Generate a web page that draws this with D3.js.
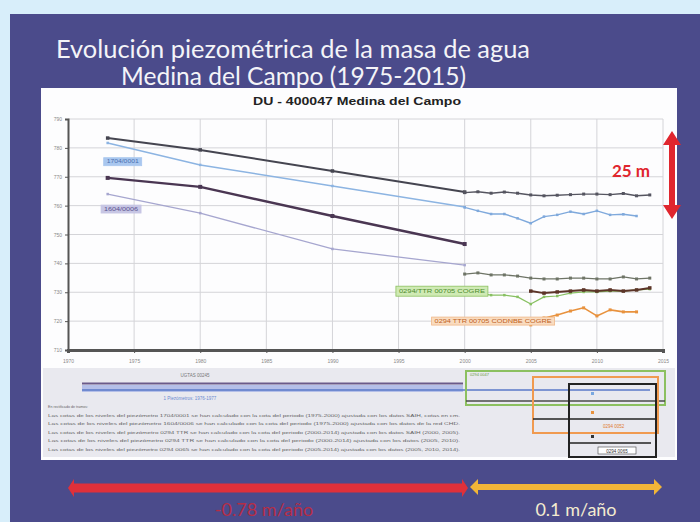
<!DOCTYPE html>
<html><head><meta charset="utf-8">
<script src="https://cdn.jsdelivr.net/npm/d3@7"></script>
<style>html,body{margin:0;padding:0;background:#d8eefa;}svg{display:block;}</style>
</head><body>
<script>
// ---- data ----
const xTicks = [1970,1975,1980,1985,1990,1995,2000,2005,2010,2015];
const yTicks = [710,720,730,740,750,760,770,780,790];
const yearsOld = [1973,1980,1990,2000];
const yearsNew = [2000,2001,2002,2003,2004,2005,2006,2007,2008,2009,2010,2011,2012,2013,2014];
const yearsBlueNew = [2000,2001,2002,2003,2004,2005,2006,2007,2008,2009,2010,2011,2012,2013];
const yearsLate = [2005,2006,2007,2008,2009,2010,2011,2012,2013,2014];
const yearsOrange = [2005,2006,2007,2008,2009,2010,2011,2012,2013];
const darkOld = [783.4,779.3,772.0,764.7];
const darkNew = [764.5,764.8,764.3,764.7,764.3,763.7,763.4,763.6,763.8,764.0,764.0,763.8,764.2,763.4,763.7];
const blueOld = [781.7,774.1,766.8,759.5];
const blueNew = [759.4,758.2,757.1,757.1,755.6,753.9,756.2,756.8,757.9,757.1,758.2,756.8,757.0,756.4];
const purpleOld = [769.6,766.5,756.4,746.7];
const lilacOld = [764.0,757.4,745.0,739.4];
const oliveNew = [736.3,736.7,736.0,736.0,735.6,734.9,734.6,734.6,734.9,734.9,734.6,734.6,735.3,734.6,734.9];
const greenNew = [731.1,729.7,729.0,729.0,728.4,725.9,728.4,728.7,729.7,730.1,730.1,730.4,730.4,730.8,731.1];
const brownLate = [730.4,729.7,730.1,730.4,730.8,730.4,730.8,730.4,730.8,731.5];
const orangeLate = [718.7,721.1,722.1,723.5,724.6,721.8,723.9,723.2,723.2];
const title1 = "Evolución piezométrica de la masa de agua";
const title2 = "Medina del Campo (1975-2015)";
const chartTitle = "DU - 400047  Medina del Campo";
const rateLeft = "-0.78 m/año";
const rateRight = "0.1 m/año";
const span = "25 m";
const boxLabels = ["1704/0001","1604/0006","0294/TTR 00705 COGRE","0294 TTR 00705 CODNBE COGRE"];
const noteLines = [
 "En rectificado de tramos:",
 "Las cotas de los niveles del piezómetro 1704/0001 se han calculado con la cota del periodo (1975-2000) ajustada con los datos SAIH, cotas en cm.",
 "Las cotas de los niveles del piezómetro 1604/0006 se han calculado con la cota del periodo (1975-2000) ajustada con los datos de la red CHD.",
 "Las cotas de los niveles del piezómetro 0294 TTR se han calculado con la cota del periodo (2000-2014) ajustada con los datos SAIH (2000, 2005).",
 "Las cotas de los niveles del piezómetro 0294 TTR se han calculado con la cota del periodo (2000-2014) ajustada con los datos (2005, 2010).",
 "Las cotas de los niveles del piezómetro 0294 0065 se han calculado con la cota del periodo (2005-2014) ajustada con los datos (2005, 2010, 2014)."
];

const W = 700, H = 522;
const svg = d3.select("body").append("svg").attr("width", W).attr("height", H);

// background
svg.append("rect").attr("width", W).attr("height", H).attr("fill", "#d8eefa");
svg.append("rect").attr("x", 10).attr("y", 14).attr("width", 690).attr("height", 508).attr("fill", "#4b4b8b");

// title
const tf = "Lato, 'Open Sans', sans-serif";
svg.append("text").attr("x", 56).attr("y", 58).attr("fill", "#f4f4f8").attr("font-family", tf)
  .attr("font-size", 25).attr("textLength", 474).attr("lengthAdjust", "spacingAndGlyphs").text(title1);
svg.append("text").attr("x", 121).attr("y", 85).attr("fill", "#f4f4f8").attr("font-family", tf)
  .attr("font-size", 25).attr("textLength", 345).attr("lengthAdjust", "spacingAndGlyphs").text(title2);

// white chart panel
svg.append("rect").attr("x", 41).attr("y", 88).attr("width", 636).attr("height", 372).attr("fill", "#fdfdfe");

svg.append("text").attr("x", 357).attr("y", 105).attr("text-anchor", "middle")
  .attr("font-family", "Arial, 'Liberation Sans', sans-serif").attr("font-weight", "bold")
  .attr("font-size", 11).attr("fill", "#222").attr("textLength", 208).attr("lengthAdjust", "spacingAndGlyphs").text(chartTitle);

// scales
const x = d3.scaleLinear().domain([1970, 2015]).range([68, 663]);
const y = d3.scaleLinear().domain([710, 790]).range([350, 119]);

const g = svg.append("g");
// gridlines
g.append("g").selectAll("line").data(yTicks).join("line")
  .attr("x1", x(1970)).attr("x2", x(2015)).attr("y1", d => y(d)).attr("y2", d => y(d))
  .attr("stroke", "#d4d4d8").attr("stroke-width", 1);
g.append("g").selectAll("line").data(xTicks.slice(1)).join("line")
  .attr("y1", y(790)).attr("y2", y(710)).attr("x1", d => x(d)).attr("x2", d => x(d))
  .attr("stroke", "#d4d4d8").attr("stroke-width", 1);

// axes
const yAxis = d3.axisLeft(y).tickValues(yTicks).tickSize(3).tickFormat(d3.format("d"));
const ya = g.append("g").attr("transform", `translate(${x(1970)},0)`).call(yAxis);
ya.select(".domain").attr("stroke", "#555").attr("stroke-width", 2);
ya.selectAll(".tick line").attr("stroke", "#555");
ya.selectAll("text").attr("font-size", 5).attr("fill", "#888").attr("font-family", "Arial, sans-serif");
const xAxis = d3.axisBottom(x).tickValues(xTicks).tickSize(3).tickFormat(d3.format("d"));
const xa = g.append("g").attr("transform", `translate(0,${y(710)})`).call(xAxis);
xa.select(".domain").attr("stroke", "#555").attr("stroke-width", 3);
xa.selectAll(".tick line").attr("stroke", "#555");
xa.selectAll("text").attr("font-size", 5).attr("fill", "#888").attr("font-family", "Arial, sans-serif").attr("dy", "1.3em");

// series
function series(years, vals, color, width, marker, mcolor) {
  const data = years.map((yr, i) => [yr, vals[i]]);
  const line = d3.line().x(d => x(d[0])).y(d => y(d[1]));
  g.append("path").datum(data).attr("d", line).attr("fill", "none")
    .attr("stroke", color).attr("stroke-width", width).attr("stroke-linejoin", "round");
  if (marker) {
    g.append("g").selectAll("rect").data(data).join("rect")
      .attr("x", d => x(d[0]) - marker / 2).attr("y", d => y(d[1]) - marker / 2)
      .attr("width", marker).attr("height", marker).attr("fill", mcolor || color);
  }
}
series(yearsOld, lilacOld, "#a6a6cf", 1.3, 2.5);
series(yearsOld, purpleOld, "#4a3652", 2.4, 4);
series(yearsOld, blueOld, "#8cb4e2", 1.5, 2.5);
series(yearsOld, darkOld, "#454550", 2, 3.5);
series(yearsNew, darkNew, "#555560", 1.4, 3);
series(yearsBlueNew, blueNew, "#7fa9dc", 1.4, 2.5);
series(yearsNew, oliveNew, "#6e7466", 1.3, 3);
series(yearsNew, greenNew, "#88c062", 1.2, 2.5);
series(yearsLate, brownLate, "#5c3428", 2, 3.5);
series(yearsOrange, orangeLate, "#e8923e", 1.6, 3);

// label boxes
const lb = [
  {x0: 1972.7, v: 776.6, w: 38, h: 8, fill: "#a9c7ef", stroke: "#a9c7ef", c: "#4b6fb0", t: boxLabels[0]},
  {x0: 1972.5, v: 760.2, w: 40, h: 8, fill: "#c7c6e4", stroke: "#c7c6e4", c: "#5a5290", t: boxLabels[1]},
  {x0: 1994.8, v: 732.1, w: 92, h: 10, fill: "#cfeab4", stroke: "#8cc060", c: "#4d8a2c", t: boxLabels[2]},
  {x0: 1997.5, v: 721.4, w: 123, h: 8, fill: "#f9dcc0", stroke: "#f0b888", c: "#c06020", t: boxLabels[3]}
];
lb.forEach(b => {
  g.append("rect").attr("x", x(b.x0)).attr("y", y(b.v)).attr("width", b.w).attr("height", b.h)
    .attr("fill", b.fill).attr("stroke", b.stroke).attr("stroke-width", 0.8);
  g.append("text").attr("x", x(b.x0) + b.w / 2).attr("y", y(b.v) + b.h / 2 + 1.6).attr("text-anchor", "middle")
    .attr("font-size", 4.5).attr("font-family", "Arial, sans-serif").attr("fill", b.c)
    .attr("textLength", b.w - 6).attr("lengthAdjust", "spacingAndGlyphs").text(b.t);
});

// lower panel
const lp = svg.append("g");
lp.append("rect").attr("x", 43).attr("y", 368).attr("width", 632).attr("height", 89).attr("fill", "#e9e9ef");
lp.append("text").attr("x", 195).attr("y", 377).attr("text-anchor", "middle").attr("font-size", 4.5)
  .attr("fill", "#777").attr("font-family", "Arial, sans-serif").text("UGTAS 00245");
lp.append("rect").attr("x", 82).attr("y", 385).attr("width", 381).attr("height", 7).attr("fill", "#b4bfe8");
lp.append("line").attr("x1", 82).attr("x2", 463).attr("y1", 383.5).attr("y2", 383.5).attr("stroke", "#6a5a8a").attr("stroke-width", 2);
lp.append("line").attr("x1", 82).attr("x2", 650).attr("y1", 390).attr("y2", 390).attr("stroke", "#5a78c8").attr("stroke-width", 1.5);
lp.append("text").attr("x", 190).attr("y", 400).attr("text-anchor", "middle").attr("font-size", 4.5)
  .attr("fill", "#6a8ad0").attr("font-family", "Arial, sans-serif").text("1 Piezómetros: 1976-1977");
noteLines.forEach((t, i) => {
  lp.append("text").attr("x", 48).attr("y", 408 + i * 8.6).attr("font-size", 4.2).attr("fill", "#666")
    .attr("font-family", "Arial, sans-serif").attr("textLength", i === 0 ? 40 : 412)
    .attr("lengthAdjust", "spacingAndGlyphs").text(t);
});
// right boxes
lp.append("rect").attr("x", 466).attr("y", 371).attr("width", 199).attr("height", 34).attr("fill", "none").attr("stroke", "#8cc060").attr("stroke-width", 2);
lp.append("line").attr("x1", 466).attr("x2", 665).attr("y1", 401).attr("y2", 401).attr("stroke", "#4a4a4a").attr("stroke-width", 1.5);
lp.append("text").attr("x", 470).attr("y", 376).attr("font-size", 4).attr("fill", "#6a9a40").attr("font-family", "Arial, sans-serif").text("0294 0047");
lp.append("rect").attr("x", 533).attr("y", 377).attr("width", 125).attr("height", 56).attr("fill", "none").attr("stroke", "#f09a50").attr("stroke-width", 2);
lp.append("rect").attr("x", 569).attr("y", 384).attr("width", 87).attr("height", 73).attr("fill", "none").attr("stroke", "#222").attr("stroke-width", 2);
lp.append("line").attr("x1", 533).attr("x2", 656).attr("y1", 419).attr("y2", 419).attr("stroke", "#222").attr("stroke-width", 1.5);
lp.append("line").attr("x1", 569).attr("x2", 651).attr("y1", 443).attr("y2", 443).attr("stroke", "#222").attr("stroke-width", 1.5);
lp.append("rect").attr("x", 591).attr("y", 392).attr("width", 3).attr("height", 3).attr("fill", "#7aa8e0");
lp.append("rect").attr("x", 591).attr("y", 411).attr("width", 3).attr("height", 3).attr("fill", "#e8923e");
lp.append("rect").attr("x", 591).attr("y", 435).attr("width", 3).attr("height", 3).attr("fill", "#333");
lp.append("text").attr("x", 603).attr("y", 428).attr("font-size", 4.5).attr("fill", "#e07a2e").attr("font-family", "Arial, sans-serif").text("0294 0052");
lp.append("rect").attr("x", 598).attr("y", 447).attr("width", 38).attr("height", 7).attr("fill", "#fff").attr("stroke", "#444").attr("stroke-width", 0.6);
lp.append("text").attr("x", 617).attr("y", 452.5).attr("text-anchor", "middle").attr("font-size", 4.5).attr("fill", "#333").attr("font-family", "Arial, sans-serif").text("0294 0065");

// 25 m vertical arrow
svg.append("text").attr("x", 612).attr("y", 177).attr("font-family", "Lato, 'Open Sans', sans-serif")
  .attr("font-weight", "bold").attr("font-size", 17).attr("fill", "#e0262e").text(span);
function dblArrowV(cx, y1, y2, w, hw, hl, color) {
  const p = d3.path();
  p.moveTo(cx, y1); p.lineTo(cx + hw, y1 + hl); p.lineTo(cx + w / 2, y1 + hl); p.lineTo(cx + w / 2, y2 - hl);
  p.lineTo(cx + hw, y2 - hl); p.lineTo(cx, y2); p.lineTo(cx - hw, y2 - hl); p.lineTo(cx - w / 2, y2 - hl);
  p.lineTo(cx - w / 2, y1 + hl); p.lineTo(cx - hw, y1 + hl); p.closePath();
  svg.append("path").attr("d", p.toString()).attr("fill", color);
}
function dblArrowH(x1, x2, cy, w, hw, hl, color) {
  const p = d3.path();
  p.moveTo(x1, cy); p.lineTo(x1 + hl, cy - hw); p.lineTo(x1 + hl, cy - w / 2); p.lineTo(x2 - hl, cy - w / 2);
  p.lineTo(x2 - hl, cy - hw); p.lineTo(x2, cy); p.lineTo(x2 - hl, cy + hw); p.lineTo(x2 - hl, cy + w / 2);
  p.lineTo(x1 + hl, cy + w / 2); p.lineTo(x1 + hl, cy + hw); p.closePath();
  svg.append("path").attr("d", p.toString()).attr("fill", color);
}
dblArrowV(672, 131, 219, 6, 9, 14, "#e0262e");

// bottom arrows
dblArrowH(68, 468, 488, 9, 9, 6, "#e0303a");
dblArrowH(470, 662, 487, 6, 8, 8, "#f2b538");
svg.append("text").attr("x", 264).attr("y", 516).attr("text-anchor", "middle")
  .attr("font-family", "Lato, 'Open Sans', sans-serif").attr("font-size", 18).attr("fill", "#c8283a").attr("opacity", 0.85).text(rateLeft);
svg.append("text").attr("x", 576).attr("y", 516).attr("text-anchor", "middle")
  .attr("font-family", "Lato, 'Open Sans', sans-serif").attr("font-size", 18).attr("fill", "#f4ecd0").text(rateRight);
</script>
</body></html>
